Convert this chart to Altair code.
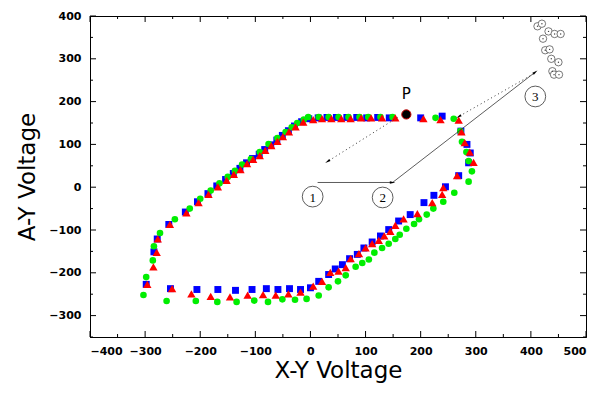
import altair as alt
import pandas as pd

# ---------------- data ----------------
blue_x = [-298, -284, -278, -257, -227, -205, -186, -170, -154, -140, -128, -116, -105, -93, -83, -72, -61, -51, -40, -29, -16, -3,
          14, 30, 47, 66, 84, 102, 122, 143, 200, 239,
          273, 284, 290, 287, 269, 245,
          224, 206, 181, 160, 142, 127, 112, 97, 85, 71, 58, 45, 33, 15, 0,
          -18, -38, -59, -80, -106, -136, -168, -206, -254]
blue_y = [-227, -151, -121, -87, -58, -34, -15, 3, 18, 32, 44, 57, 67, 77, 88, 99, 110, 121, 132, 143, 153, 160,
          162, 163, 163, 163, 163, 162, 163, 162, 162, 166,
          131, 100, 80, 57, 27, 1,
          -19, -36, -64, -79, -99, -114, -128, -142, -157, -167, -181, -191, -204, -220, -235,
          -239, -237, -239, -237, -239, -241, -239, -239, -237]

red_x = [-296, -285, -279, -277, -255, -225, -203, -185, -168, -152, -139, -127, -115, -104, -92, -82, -71, -60, -50, -39, -27, -13,
         5, 21, 38, 56, 73, 92, 110, 130, 154, 205, 236, 269,
         274, 280, 289, 296, 266,
         241, 239, 221, 194, 169, 154, 145, 134, 124, 112, 100, 88, 73, 64, 51, 36, 21, 5,
         -18, -40, -63, -86, -114, -146, -181, -216, -251]
red_y = [-227, -186, -152, -121, -87, -60, -36, -17, 1, 16, 30, 41, 55, 65, 74, 86, 97, 107, 118, 129, 141, 152,
         158, 160, 160, 160, 160, 162, 162, 162, 162, 160, 158, 157,
         129, 104, 82, 58, 27,
         -1, -17, -36, -62, -74, -89, -103, -114, -124, -132, -142, -155, -167, -188, -196, -199, -220, -231,
         -245, -249, -252, -251, -252, -256, -255, -249, -237]

green_x = [-303, -298, -286, -284, -273, -246, -219, -200, -181, -165, -150, -137, -124, -108, -92, -76, -60, -45, -34, -24, -12,
           -4, 15, 33, 51, 69, 89, 105, 127, 149, 227, 260,
           272, 275, 283, 287, 293, 287,
           261, 241, 223, 211, 197, 188, 174, 162, 154, 142, 130, 116, 106, 94, 82, 64, 50, 33, 15, -7,
           -28, -51, -77, -102, -134, -169, -208, -261]
green_y = [-252, -210, -171, -138, -107, -75, -50, -27, -8, 9, 24, 38, 53, 66, 82, 101, 115, 129, 140, 150, 158,
           164, 164, 164, 164, 164, 164, 164, 164, 164, 162, 160,
           131, 106, 82, 61, 37, 13,
           -13, -34, -50, -64, -75, -86, -97, -111, -121, -132, -142, -153, -169, -177, -186, -206, -220, -234, -253, -261,
           -263, -262, -268, -265, -268, -268, -266, -266]

open_x = [412, 420, 432, 443, 454, 422, 426, 434, 437, 450, 439, 442, 451]
open_y = [376, 382, 364, 358, 358, 347, 320, 322, 300, 292, 271, 263, 263]

p_x, p_y, p_label = [174], [170], ["P"]

solid_x = [13, 149, 408]
solid_y = [11, 11, 269]
dot_seg = ["a", "a", "b", "b"]
dot_x = [405, 269, 158, 31]
dot_y = [265, 165, 163, 60]

head_x = [149, 408, 269, 31]
head_y = [11, 269, 165, 60]
head_ang = [90, 52, 240, 238]

num_x = [4, 131, 408]
num_y = [-22, -24, 212]
num_t = ["1", "2", "3"]

x_ticks = list(range(-400, 501, 50))
y_ticks = list(range(-350, 401, 50))

W, H = 496, 321
xs = alt.Scale(domain=[-400, 500], nice=False, zero=False)
ys = alt.Scale(domain=[-350, 400], nice=False, zero=False)

x_axis = alt.Axis(values=list(range(-400, 501, 100)), title="X-Y Voltage", ticks=False, grid=False,
                  labelFontSize=11, labelFontWeight="bold", labelPadding=8, labelColor="black",
                  domainColor="black",
                  titleFontSize=23, titleFontWeight="normal", titlePadding=3, titleColor="black")
y_axis = alt.Axis(values=list(range(-300, 401, 100)), title="A-Y Voltage", ticks=False, grid=False,
                  labelFontSize=11, labelFontWeight="bold", labelPadding=9, labelColor="black",
                  domainColor="black",
                  titleFontSize=23, titleFontWeight="normal", titlePadding=9, titleColor="black")


def X(f="x"):
    return alt.X(f + ":Q", scale=xs, axis=x_axis)


def Y(f="y"):
    return alt.Y(f + ":Q", scale=ys, axis=y_axis)


def series(xv, yv, shape, color, size):
    d = pd.DataFrame({"x": xv, "y": yv})
    return alt.Chart(d).mark_point(filled=True, opacity=1, shape=shape, color=color, size=size).encode(
        x=X(), y=Y())


blue = series(blue_x, blue_y, "square", "#0000FF", 48)
green = series(green_x, green_y, "circle", "#00EE00", 44)
red = series(red_x, red_y, "triangle-up", "#FF0000", 70)

opn = pd.DataFrame({"x": open_x, "y": open_y})
open_c = alt.Chart(opn).mark_point(filled=True, fill="white", stroke="#555", strokeWidth=0.8, size=55,
                                   shape="circle", opacity=1).encode(x=X(), y=Y())
open_d = alt.Chart(opn).mark_point(filled=True, color="#444", size=2, shape="circle", opacity=1).encode(
    x=X(), y=Y())

sol = pd.DataFrame({"x": solid_x, "y": solid_y, "i": list(range(len(solid_x)))})
solid = alt.Chart(sol).mark_line(color="#333", strokeWidth=0.8).encode(x=X(), y=Y(), order="i:Q")

dts = pd.DataFrame({"x": dot_x, "y": dot_y, "s": dot_seg, "i": list(range(len(dot_x)))})
dotted = alt.Chart(dts).mark_line(color="#333", strokeWidth=1, strokeDash=[1, 3]).encode(
    x=X(), y=Y(), detail="s:N", order="i:Q")

hd = pd.DataFrame({"x": head_x, "y": head_y, "a": head_ang})
heads = alt.Chart(hd).mark_point(filled=True, color="black", opacity=1, size=30,
                                 shape="M0,-1L0.45,1L-0.45,1Z").encode(
    x=X(), y=Y(), angle=alt.Angle("a:Q", scale=None))

nm = pd.DataFrame({"x": num_x, "y": num_y, "t": num_t})
num_c = alt.Chart(nm).mark_point(filled=True, fill="white", stroke="#333", strokeWidth=0.8, size=430,
                                 shape="circle", opacity=1).encode(x=X(), y=Y())
num_t_ = alt.Chart(nm).mark_text(font="Liberation Serif", fontSize=13, color="black", dy=1).encode(
    x=X(), y=Y(), text="t:N")

pdf = pd.DataFrame({"x": p_x, "y": p_y, "t": p_label})
p_pt = alt.Chart(pdf).mark_point(filled=True, fill="black", stroke="#cc0000", strokeWidth=1, size=85,
                                 shape="circle", opacity=1).encode(x=X(), y=Y())
p_txt = alt.Chart(pdf).mark_text(font="DejaVu Sans", fontSize=15, color="black", dy=-20).encode(
    x=X(), y=Y(), text="t:N")


def tick_layers():
    layers = []
    for major in (True, False):
        L = 6 if major else 3
        xv = [v for v in x_ticks if (v % 100 == 0) == major]
        yv = [v for v in y_ticks if (v % 100 == 0) == major]
        dx = pd.DataFrame({"x": xv})
        dy = pd.DataFrame({"y": yv})
        layers.append(alt.Chart(dx).mark_rule(color="black", strokeWidth=1).encode(
            x=X(), y=alt.value(H), y2=alt.value(H - L)))
        layers.append(alt.Chart(dx).mark_rule(color="black", strokeWidth=1).encode(
            x=X(), y=alt.value(0), y2=alt.value(L)))
        layers.append(alt.Chart(dy).mark_rule(color="black", strokeWidth=1).encode(
            y=Y(), x=alt.value(0), x2=alt.value(L)))
        layers.append(alt.Chart(dy).mark_rule(color="black", strokeWidth=1).encode(
            y=Y(), x=alt.value(W), x2=alt.value(W - L)))
    return layers


chart = alt.layer(
    blue, green, red,
    *tick_layers(),
    solid, dotted, heads, num_c, num_t_, open_c, open_d, p_pt, p_txt,
).properties(
    width=W, height=H,
    autosize=alt.AutoSizeParams(type="none"),
    padding={"left": 82, "top": 8, "right": 14, "bottom": 49},
    background="white",
).configure_view(
    stroke="black", strokeWidth=1
).configure_axis(
    labelFont="DejaVu Sans", titleFont="DejaVu Sans"
)

chart.save("out.html", embed_options={"renderer": "svg", "actions": False})
